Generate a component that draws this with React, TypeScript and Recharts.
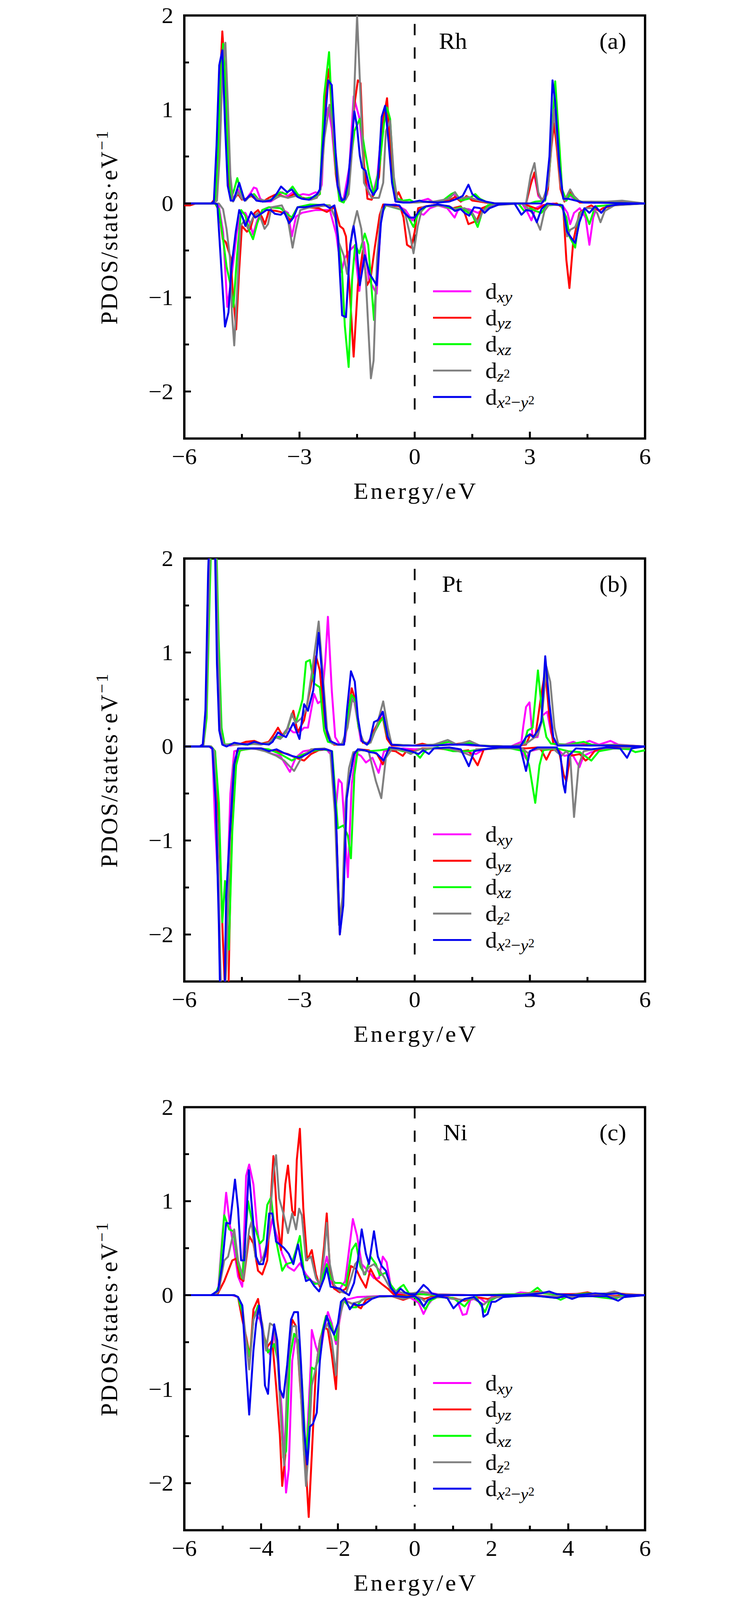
import React from 'react';
import { LineChart, Line, XAxis, YAxis, ReferenceLine, ReferenceArea, Legend } from 'recharts';

type Pt = [number, number];

// ---------------- Panel (a) Rh : spin-up ----------------
const rhUpXy: Pt[] = [[-6,0],[-5.3,0],[-5.2,0.05],[-5.13,0.5],[-5.07,1.4],[-5.0,1.66],[-4.94,1.0],[-4.87,0.3],[-4.79,0.04],[-4.72,0.05],[-4.6,0.15],[-4.5,0.05],[-4.4,0.04],[-4.26,0.12],[-4.19,0.17],[-4.12,0.16],[-4.02,0.05],[-3.9,0.02],[-3.75,0.02],[-3.6,0.06],[-3.45,0.12],[-3.3,0.08],[-3.18,0.12],[-3.05,0.08],[-2.91,0.1],[-2.75,0.09],[-2.58,0.12],[-2.5,0.1],[-2.42,0.2],[-2.34,0.9],[-2.25,1.02],[-2.16,0.8],[-2.05,0.3],[-1.96,0.04],[-1.85,0.05],[-1.7,0.39],[-1.59,1.14],[-1.5,1.0],[-1.44,0.91],[-1.32,0.39],[-1.2,0.1],[-1.1,0.08],[-0.97,0.3],[-0.85,0.85],[-0.75,0.97],[-0.68,0.8],[-0.6,0.35],[-0.5,0.05],[-0.4,0.03],[-0.2,0.01],[0.1,0.02],[0.35,0.05],[0.5,0.01],[0.8,0.02],[1.0,0.1],[1.1,0.07],[1.2,0.02],[1.4,0.06],[1.55,0.04],[1.7,0.02],[2.0,0],[2.9,0],[3.05,0.25],[3.12,0.3],[3.22,0.08],[3.35,0.02],[3.45,0.1],[3.55,0.6],[3.63,0.9],[3.7,0.7],[3.8,0.2],[3.9,0.04],[4.05,0.08],[4.15,0.05],[4.3,0.01],[4.6,0.02],[5.0,0.01],[5.4,0.02],[6,0]];
const rhUpYz: Pt[] = [[-6,0],[-5.3,0],[-5.2,0.05],[-5.14,0.35],[-5.07,1.3],[-5.01,1.83],[-4.96,1.5],[-4.9,0.8],[-4.83,0.2],[-4.75,0.03],[-4.68,0.06],[-4.6,0.1],[-4.5,0.04],[-4.4,0.05],[-4.25,0.08],[-4.1,0.03],[-3.95,0.02],[-3.8,0.06],[-3.6,0.1],[-3.45,0.08],[-3.3,0.06],[-3.15,0.1],[-3.0,0.07],[-2.8,0.05],[-2.6,0.06],[-2.47,0.1],[-2.38,0.7],[-2.31,1.25],[-2.23,1.43],[-2.15,0.9],[-2.05,0.3],[-1.95,0.04],[-1.83,0.05],[-1.75,0.15],[-1.66,0.45],[-1.57,1.05],[-1.48,1.31],[-1.41,1.28],[-1.32,0.42],[-1.23,0.05],[-1.12,0.04],[-0.93,0.28],[-0.81,0.91],[-0.72,1.12],[-0.61,0.42],[-0.5,0.05],[-0.42,0.12],[-0.31,0.02],[-0.1,0.01],[0.2,0.02],[0.5,0.01],[0.9,0.03],[1.05,0.07],[1.2,0.02],[1.35,0.08],[1.5,0.03],[1.7,0.02],[2.0,0],[2.9,0],[3.02,0.2],[3.12,0.33],[3.22,0.1],[3.35,0.02],[3.47,0.15],[3.56,0.6],[3.63,0.85],[3.7,0.6],[3.8,0.15],[3.9,0.02],[4.05,0.12],[4.15,0.06],[4.3,0.01],[4.7,0.01],[5.2,0.01],[6,0]];
const rhUpXz: Pt[] = [[-6,0],[-5.3,0],[-5.2,0.03],[-5.13,0.4],[-5.06,1.3],[-4.99,1.7],[-4.93,1.3],[-4.86,0.5],[-4.78,0.05],[-4.7,0.15],[-4.62,0.27],[-4.52,0.12],[-4.42,0.03],[-4.3,0.08],[-4.18,0.1],[-4.05,0.03],[-3.9,0.02],[-3.7,0.05],[-3.5,0.12],[-3.35,0.1],[-3.18,0.18],[-3.05,0.1],[-2.9,0.05],[-2.75,0.06],[-2.6,0.07],[-2.47,0.1],[-2.36,1.14],[-2.23,1.61],[-2.14,0.85],[-2.05,0.36],[-1.96,0.03],[-1.85,0.01],[-1.75,0.1],[-1.65,0.5],[-1.57,0.77],[-1.43,0.9],[-1.3,0.57],[-1.19,0.31],[-1.06,0.09],[-0.91,0.42],[-0.8,0.85],[-0.72,1.02],[-0.64,0.9],[-0.54,0.22],[-0.45,0.05],[-0.3,0.03],[-0.13,0.04],[0,0.01],[0.3,0.02],[0.7,0.02],[0.95,0.1],[1.05,0.12],[1.2,0.03],[1.4,0.05],[1.58,0.1],[1.7,0.05],[1.9,0.01],[2.1,0],[3.0,0],[3.15,0.02],[3.4,0.03],[3.52,0.4],[3.6,0.9],[3.66,1.3],[3.74,0.8],[3.84,0.15],[3.95,0.03],[4.05,0.1],[4.2,0.04],[4.4,0.01],[5.0,0.01],[6,0]];
const rhUpZ2: Pt[] = [[-6,0],[-5.25,0],[-5.15,0.03],[-5.08,0.5],[-5.0,1.5],[-4.93,1.71],[-4.87,1.1],[-4.8,0.3],[-4.73,0.02],[-4.6,0.12],[-4.5,0.05],[-4.4,0.03],[-4.25,0.1],[-4.1,0.05],[-3.9,0.03],[-3.7,0.04],[-3.5,0.08],[-3.3,0.06],[-3.1,0.08],[-2.9,0.05],[-2.7,0.04],[-2.55,0.06],[-2.45,0.15],[-2.35,0.7],[-2.22,1.05],[-2.13,0.8],[-2.02,0.4],[-1.93,0.06],[-1.8,0.04],[-1.72,0.1],[-1.63,0.57],[-1.5,2.0],[-1.41,1.14],[-1.32,0.22],[-1.12,0.06],[-0.93,0.06],[-0.82,0.22],[-0.75,0.77],[-0.64,0.88],[-0.54,0.28],[-0.45,0.03],[-0.3,0.02],[0,0.01],[0.5,0.02],[0.9,0.05],[1.05,0.12],[1.15,0.05],[1.4,0.07],[1.6,0.04],[1.8,0.02],[2.1,0],[2.9,0],[3.02,0.3],[3.12,0.43],[3.22,0.12],[3.32,0.02],[3.48,0.2],[3.57,0.7],[3.63,1.0],[3.7,0.7],[3.8,0.2],[3.9,0.03],[4.05,0.15],[4.15,0.08],[4.3,0.02],[4.6,0.02],[5.0,0.02],[5.4,0.03],[6,0]];
const rhUpX2y2: Pt[] = [[-6,0],[-5.3,0],[-5.23,0.02],[-5.16,0.62],[-5.09,1.47],[-5.01,1.63],[-4.94,0.85],[-4.87,0.19],[-4.79,0.03],[-4.72,0.03],[-4.57,0.22],[-4.43,0.03],[-4.26,0.1],[-4.12,0.03],[-3.95,0.02],[-3.75,0.03],[-3.6,0.1],[-3.48,0.18],[-3.4,0.15],[-3.32,0.12],[-3.2,0.15],[-3.05,0.07],[-2.94,0.05],[-2.75,0.04],[-2.54,0.1],[-2.47,0.15],[-2.4,0.57],[-2.25,1.31],[-2.16,1.26],[-2.01,0.19],[-1.9,0.03],[-1.82,0.05],[-1.74,0.22],[-1.57,0.98],[-1.5,0.81],[-1.43,0.51],[-1.37,0.38],[-1.28,0.35],[-1.17,0.16],[-1.08,0.09],[-0.97,0.16],[-0.86,0.92],[-0.77,1.04],[-0.68,0.65],[-0.59,0.22],[-0.5,0.02],[-0.3,0.01],[-0.13,0.01],[0.13,0.03],[0.23,0.02],[0.6,0.01],[0.9,0.02],[1.1,0.05],[1.25,0.08],[1.4,0.2],[1.5,0.1],[1.65,0.05],[1.85,0.02],[2.1,0],[3.3,0],[3.4,0.05],[3.51,0.5],[3.59,1.31],[3.66,1.08],[3.77,0.4],[3.87,0.05],[4.0,0.05],[4.2,0.03],[4.4,0.01],[6,0]];

// ---------------- Panel (a) Rh : spin-down ----------------
const rhDnXy: Pt[] = [[-6,0],[-5.2,0],[-5.1,-0.03],[-4.99,-0.3],[-4.88,-1.1],[-4.81,-0.9],[-4.72,-0.61],[-4.63,-0.3],[-4.52,-0.1],[-4.41,-0.1],[-4.3,-0.2],[-4.21,-0.33],[-4.1,-0.18],[-3.97,-0.07],[-3.8,-0.04],[-3.5,-0.05],[-3.3,-0.1],[-3.2,-0.35],[-3.09,-0.14],[-2.94,-0.1],[-2.58,-0.07],[-2.21,-0.07],[-2.04,-0.33],[-1.91,-0.73],[-1.82,-0.58],[-1.69,-0.5],[-1.57,-0.45],[-1.44,-0.93],[-1.32,-0.41],[-1.19,-0.81],[-0.99,-0.96],[-0.88,-0.18],[-0.8,-0.02],[-0.5,-0.01],[-0.24,-0.07],[-0.06,-0.18],[0.09,-0.1],[0.23,-0.12],[0.4,-0.05],[0.6,-0.02],[0.85,-0.05],[1.04,-0.15],[1.15,-0.05],[1.4,-0.06],[1.65,-0.1],[1.85,-0.04],[2.1,0],[2.8,0],[2.92,-0.08],[3.04,-0.18],[3.15,-0.05],[3.3,-0.02],[3.6,0],[3.85,-0.02],[3.98,-0.1],[4.05,-0.22],[4.15,-0.1],[4.3,-0.05],[4.45,-0.15],[4.55,-0.44],[4.65,-0.15],[4.75,-0.03],[5.0,-0.02],[5.3,-0.01],[6,0]];
const rhDnYz: Pt[] = [[-6,-0.02],[-5.85,-0.02],[-5.7,0],[-5.2,0],[-5.1,-0.07],[-5.0,-0.38],[-4.92,-0.41],[-4.79,-0.58],[-4.74,-0.93],[-4.65,-1.34],[-4.57,-0.7],[-4.5,-0.24],[-4.37,-0.3],[-4.28,-0.27],[-4.17,-0.1],[-4.08,-0.07],[-3.97,-0.15],[-3.9,-0.22],[-3.79,-0.07],[-3.6,-0.08],[-3.4,-0.1],[-3.24,-0.18],[-3.05,-0.04],[-2.8,-0.04],[-2.5,-0.05],[-2.29,-0.09],[-2.08,-0.04],[-1.95,-0.24],[-1.86,-0.27],[-1.79,-0.35],[-1.7,-0.87],[-1.59,-1.63],[-1.48,-0.87],[-1.35,-0.5],[-1.24,-0.87],[-1.15,-0.8],[-1.04,-0.47],[-0.91,-0.12],[-0.82,-0.01],[-0.38,-0.03],[-0.29,-0.15],[-0.2,-0.44],[-0.09,-0.47],[0.0,-0.3],[0.09,-0.05],[0.3,-0.03],[0.6,-0.01],[1.0,-0.05],[1.2,-0.03],[1.3,-0.1],[1.4,-0.22],[1.52,-0.2],[1.62,-0.18],[1.75,-0.05],[2.0,-0.01],[2.8,0],[3.0,-0.03],[3.2,-0.06],[3.35,-0.02],[3.7,0],[3.87,-0.05],[3.95,-0.6],[4.03,-0.9],[4.13,-0.4],[4.29,-0.1],[4.45,-0.05],[4.6,-0.02],[4.8,-0.08],[4.9,-0.05],[5.2,-0.02],[5.5,-0.01],[6,0]];
const rhDnXz: Pt[] = [[-6,0],[-5.2,0],[-5.1,-0.06],[-4.99,-0.38],[-4.9,-0.67],[-4.81,-0.84],[-4.72,-1.1],[-4.63,-0.58],[-4.52,-0.07],[-4.41,-0.13],[-4.3,-0.3],[-4.21,-0.38],[-4.1,-0.21],[-3.97,-0.07],[-3.79,-0.04],[-3.5,-0.05],[-3.2,-0.15],[-3.05,-0.04],[-2.72,-0.01],[-2.21,-0.02],[-2.04,-0.18],[-1.89,-0.73],[-1.82,-1.3],[-1.72,-1.74],[-1.63,-0.81],[-1.55,-0.44],[-1.44,-0.53],[-1.3,-0.32],[-1.21,-0.44],[-1.06,-1.24],[-0.95,-0.47],[-0.87,-0.12],[-0.75,-0.02],[-0.31,-0.07],[-0.16,-0.15],[-0.03,-0.25],[0.08,-0.12],[0.3,-0.03],[0.7,-0.02],[1.0,-0.06],[1.2,-0.04],[1.4,-0.1],[1.5,-0.12],[1.64,-0.25],[1.75,-0.1],[1.9,-0.02],[2.2,0],[2.7,0],[2.85,-0.08],[3.0,-0.05],[3.15,-0.08],[3.3,-0.1],[3.45,-0.02],[3.8,-0.01],[3.95,-0.15],[4.03,-0.35],[4.18,-0.47],[4.3,-0.1],[4.42,-0.08],[4.55,-0.22],[4.7,-0.03],[5.0,-0.02],[6,0]];
const rhDnZ2: Pt[] = [[-6,0],[-5.1,0],[-4.99,-0.06],[-4.9,-0.27],[-4.81,-0.58],[-4.76,-1.16],[-4.7,-1.51],[-4.63,-0.98],[-4.54,-0.24],[-4.43,-0.18],[-4.34,-0.27],[-4.21,-0.15],[-4.08,-0.1],[-3.99,-0.18],[-3.91,-0.27],[-3.82,-0.22],[-3.73,-0.04],[-3.46,-0.02],[-3.31,-0.15],[-3.18,-0.47],[-3.09,-0.27],[-2.98,-0.07],[-2.72,-0.04],[-2.21,-0.02],[-2.07,-0.15],[-1.98,-0.41],[-1.85,-0.55],[-1.76,-0.75],[-1.63,-0.3],[-1.5,-0.08],[-1.39,-0.27],[-1.28,-0.75],[-1.14,-1.86],[-1.07,-1.67],[-0.98,-0.58],[-0.87,-0.07],[-0.75,-0.02],[-0.27,-0.07],[-0.14,-0.3],[-0.03,-0.53],[0.08,-0.24],[0.2,-0.04],[0.5,-0.02],[0.9,-0.03],[1.05,-0.06],[1.3,-0.05],[1.5,-0.1],[1.64,-0.2],[1.78,-0.08],[2.0,-0.02],[2.8,0],[2.95,-0.05],[3.1,-0.12],[3.27,-0.28],[3.38,-0.08],[3.5,-0.01],[3.85,-0.02],[3.97,-0.35],[4.05,-0.28],[4.18,-0.25],[4.3,-0.12],[4.44,-0.05],[4.6,-0.05],[4.75,-0.1],[4.84,-0.2],[4.95,-0.08],[5.2,-0.02],[6,0]];
const rhDnX2y2: Pt[] = [[-6,0],[-5.2,0],[-5.14,-0.01],[-5.03,-0.73],[-4.94,-1.31],[-4.85,-1.16],[-4.77,-0.67],[-4.66,-0.3],[-4.57,-0.07],[-4.48,-0.15],[-4.41,-0.24],[-4.34,-0.17],[-4.26,-0.09],[-4.15,-0.15],[-4.04,-0.12],[-3.86,-0.07],[-3.75,-0.07],[-3.64,-0.11],[-3.49,-0.12],[-3.4,-0.09],[-3.27,-0.21],[-3.16,-0.15],[-3.05,-0.04],[-2.87,-0.04],[-2.58,-0.02],[-2.36,-0.01],[-2.21,-0.05],[-2.09,-0.02],[-2.0,-0.35],[-1.89,-1.19],[-1.79,-1.21],[-1.68,-0.44],[-1.59,-0.24],[-1.52,-0.44],[-1.43,-0.87],[-1.3,-0.55],[-1.17,-0.75],[-0.99,-0.87],[-0.88,-0.21],[-0.79,-0.01],[-0.4,-0.02],[-0.27,-0.1],[-0.14,-0.15],[0.0,-0.15],[0.13,-0.07],[0.3,-0.03],[0.6,-0.01],[0.9,-0.03],[1.05,-0.08],[1.2,-0.06],[1.3,-0.1],[1.42,-0.13],[1.55,-0.04],[1.7,-0.05],[1.82,-0.1],[1.95,-0.05],[2.2,-0.01],[2.6,0],[2.78,-0.12],[2.9,-0.07],[3.05,-0.08],[3.18,-0.2],[3.3,-0.06],[3.45,0],[3.85,-0.02],[3.97,-0.3],[4.1,-0.38],[4.18,-0.42],[4.29,-0.2],[4.42,-0.05],[4.55,-0.1],[4.7,-0.03],[4.86,-0.1],[5.0,-0.03],[5.3,-0.01],[6,0]];

// ---------------- Panel (b) Pt : spin-up ----------------
const ptUpXy: Pt[] = [[-6,0],[-5.6,0],[-5.5,0.03],[-5.43,0.5],[-5.36,1.9],[-5.29,2.7],[-5.21,2.5],[-5.14,0.8],[-5.07,0.15],[-4.99,0.02],[-4.8,0.01],[-4.5,0.03],[-4.2,0.04],[-3.9,0.03],[-3.6,0.1],[-3.45,0.12],[-3.3,0.2],[-3.16,0.15],[-3.0,0.15],[-2.88,0.2],[-2.78,0.2],[-2.62,0.56],[-2.52,0.46],[-2.42,0.49],[-2.33,0.9],[-2.26,1.38],[-2.16,0.6],[-2.07,0.1],[-1.95,0.02],[-1.82,0.05],[-1.7,0.4],[-1.6,0.55],[-1.5,0.3],[-1.4,0.06],[-1.25,0.02],[-1.1,0.12],[-0.95,0.25],[-0.85,0.37],[-0.72,0.1],[-0.6,0.02],[0,0.01],[0.5,0.01],[1.0,0.03],[1.5,0.01],[2.5,0],[2.78,0.05],[2.83,0.22],[2.9,0.42],[2.99,0.47],[3.07,0.1],[3.2,0.1],[3.33,0.33],[3.45,0.37],[3.55,0.15],[3.66,0.02],[3.9,0.02],[4.13,0.05],[4.3,0.02],[4.55,0.06],[4.8,0.02],[5.1,0.06],[5.3,0.02],[6,0]];
const ptUpYz: Pt[] = [[-6,0],[-5.6,0],[-5.5,0.02],[-5.43,0.4],[-5.36,1.8],[-5.29,2.7],[-5.21,2.6],[-5.13,1.0],[-5.06,0.15],[-4.98,0.02],[-4.6,0.02],[-4.4,0.05],[-4.18,0.06],[-4.0,0.03],[-3.8,0.05],[-3.68,0.12],[-3.56,0.2],[-3.45,0.12],[-3.35,0.15],[-3.16,0.38],[-3.05,0.15],[-2.88,0.28],[-2.68,0.7],[-2.57,0.96],[-2.47,0.81],[-2.36,0.28],[-2.26,0.1],[-2.1,0.02],[-1.85,0.02],[-1.75,0.3],[-1.64,0.62],[-1.55,0.5],[-1.46,0.2],[-1.35,0.04],[-1.2,0.03],[-1.06,0.17],[-0.92,0.28],[-0.83,0.31],[-0.72,0.08],[-0.6,0.01],[0,0.01],[0.2,0.03],[0.4,0.01],[1.0,0.02],[1.3,0.04],[1.6,0.01],[2.5,0],[2.9,0.02],[3.01,0.13],[3.14,0.1],[3.29,0.53],[3.4,0.81],[3.51,0.31],[3.61,0.03],[4.0,0.01],[4.5,0.02],[5.0,0.01],[6,0]];
const ptUpXz: Pt[] = [[-6,0],[-5.6,0],[-5.5,0.02],[-5.42,0.3],[-5.34,1.6],[-5.27,2.6],[-5.19,2.6],[-5.11,1.2],[-5.03,0.2],[-4.95,0.02],[-4.7,0.03],[-4.4,0.02],[-4.1,0.03],[-3.8,0.03],[-3.6,0.1],[-3.45,0.1],[-3.3,0.2],[-3.2,0.35],[-3.1,0.25],[-3.0,0.38],[-2.92,0.5],[-2.83,0.9],[-2.73,0.92],[-2.62,0.67],[-2.47,0.63],[-2.36,0.17],[-2.26,0.05],[-2.0,0.02],[-1.84,0.03],[-1.75,0.3],[-1.65,0.55],[-1.56,0.5],[-1.46,0.2],[-1.35,0.05],[-1.2,0.03],[-1.05,0.15],[-0.92,0.25],[-0.82,0.31],[-0.72,0.12],[-0.6,0.02],[0,0.01],[0.5,0.02],[0.9,0.05],[1.1,0.02],[1.4,0.04],[1.7,0.01],[2.5,0],[2.85,0.03],[2.94,0.17],[3.07,0.2],[3.21,0.81],[3.33,0.31],[3.43,0.1],[3.55,0.03],[4.0,0.02],[4.4,0.05],[4.6,0.02],[5.0,0.01],[6,0]];
const ptUpZ2: Pt[] = [[-6,0],[-5.6,0],[-5.5,0.02],[-5.43,0.4],[-5.35,1.8],[-5.28,2.7],[-5.2,2.6],[-5.12,1.0],[-5.05,0.15],[-4.97,0.02],[-4.6,0.02],[-4.3,0.03],[-4.0,0.02],[-3.8,0.04],[-3.65,0.1],[-3.5,0.08],[-3.35,0.15],[-3.2,0.35],[-3.1,0.25],[-2.95,0.3],[-2.82,0.4],[-2.68,0.78],[-2.5,1.33],[-2.38,0.7],[-2.28,0.17],[-2.15,0.03],[-1.9,0.02],[-1.75,0.2],[-1.63,0.5],[-1.53,0.45],[-1.43,0.15],[-1.32,0.04],[-1.15,0.04],[-1.0,0.2],[-0.82,0.48],[-0.7,0.2],[-0.6,0.02],[0,0.01],[0.5,0.02],[0.86,0.07],[1.1,0.02],[1.43,0.06],[1.7,0.01],[2.5,0],[2.9,0.03],[3.0,0.06],[3.2,0.12],[3.3,0.25],[3.43,0.85],[3.53,0.69],[3.64,0.2],[3.74,0.02],[4.2,0.02],[4.5,0.01],[5.2,0.02],[6,0]];
const ptUpX2y2: Pt[] = [[-6,0],[-5.6,0],[-5.52,0.02],[-5.45,0.38],[-5.38,1.85],[-5.3,2.8],[-5.22,2.6],[-5.15,0.88],[-5.09,0.17],[-5.01,0.02],[-4.9,0],[-4.7,0.04],[-4.55,0.03],[-4.35,0.02],[-4.18,0.05],[-4.0,0.03],[-3.8,0.02],[-3.7,0.05],[-3.56,0.15],[-3.45,0.12],[-3.35,0.1],[-3.16,0.25],[-3.0,0.08],[-2.88,0.45],[-2.78,0.38],[-2.64,0.6],[-2.5,1.21],[-2.42,0.81],[-2.31,0.2],[-2.21,0.06],[-2.0,0.02],[-1.84,0.02],[-1.76,0.4],[-1.66,0.8],[-1.56,0.69],[-1.48,0.31],[-1.38,0.06],[-1.24,0.02],[-1.17,0.06],[-1.06,0.26],[-0.96,0.28],[-0.83,0.37],[-0.7,0.1],[-0.6,0.02],[-0.3,0.01],[0,0.01],[0.5,0.01],[0.9,0.02],[1.4,0.02],[2.0,0],[2.75,0],[2.9,0.1],[3.0,0.13],[3.09,0.1],[3.22,0.18],[3.3,0.27],[3.4,0.96],[3.51,0.45],[3.61,0.1],[3.72,0.01],[4.0,0.01],[4.5,0.01],[5.0,0.01],[6,0]];

// ---------------- Panel (b) Pt : spin-down ----------------
const ptDnXy: Pt[] = [[-6,0],[-5.35,0],[-5.27,-0.03],[-5.2,-0.8],[-5.1,-1.62],[-5.05,-2.7],[-4.95,-2.8],[-4.88,-1.5],[-4.8,-0.5],[-4.7,-0.05],[-4.4,-0.02],[-4.0,-0.03],[-3.7,-0.08],[-3.5,-0.1],[-3.25,-0.27],[-3.1,-0.12],[-2.9,-0.05],[-2.6,-0.03],[-2.3,-0.03],[-2.15,-0.1],[-2.05,-0.64],[-1.98,-0.35],[-1.9,-0.39],[-1.74,-1.39],[-1.64,-0.4],[-1.53,-0.07],[-1.4,-0.1],[-1.27,-0.17],[-1.1,-0.12],[-0.94,-0.28],[-0.8,-0.05],[-0.6,-0.03],[-0.3,-0.02],[0,-0.03],[0.4,-0.02],[0.8,-0.02],[1.3,-0.05],[1.6,-0.08],[1.8,-0.03],[2.2,-0.02],[2.6,-0.01],[2.8,-0.05],[2.9,-0.13],[3.0,-0.05],[3.3,-0.02],[3.7,-0.02],[3.9,-0.1],[4.1,-0.08],[4.29,-0.22],[4.4,-0.1],[4.6,-0.06],[4.9,-0.03],[5.3,-0.02],[6,0]];
const ptDnYz: Pt[] = [[-6,0],[-5.3,0],[-5.2,-0.05],[-5.1,-0.8],[-5.0,-2.0],[-4.92,-2.8],[-4.86,-2.8],[-4.8,-1.5],[-4.72,-0.4],[-4.63,-0.05],[-4.3,-0.02],[-4.0,-0.02],[-3.6,-0.05],[-3.3,-0.08],[-3.1,-0.12],[-2.88,-0.15],[-2.7,-0.08],[-2.5,-0.04],[-2.3,-0.03],[-2.16,-0.05],[-2.05,-0.75],[-1.95,-2.0],[-1.86,-1.6],[-1.77,-0.5],[-1.69,-0.33],[-1.58,-0.08],[-1.45,-0.03],[-1.2,-0.04],[-0.98,-0.08],[-0.83,-0.19],[-0.7,-0.04],[-0.5,-0.05],[-0.31,-0.1],[-0.2,-0.04],[0,-0.05],[0.2,-0.02],[0.6,-0.02],[1.2,-0.05],[1.4,-0.04],[1.64,-0.2],[1.8,-0.03],[2.4,-0.01],[2.9,-0.02],[3.2,-0.01],[3.3,-0.04],[3.43,-0.14],[3.55,-0.04],[3.75,-0.03],[3.88,-0.3],[3.95,-0.37],[4.05,-0.1],[4.3,-0.08],[4.45,-0.15],[4.55,-0.12],[4.7,-0.04],[5.0,-0.01],[6,0]];
const ptDnXz: Pt[] = [[-6,0],[-5.3,0],[-5.2,-0.05],[-5.1,-0.6],[-5.01,-1.87],[-4.94,-1.43],[-4.84,-2.16],[-4.75,-0.9],[-4.65,-0.2],[-4.55,-0.04],[-4.2,-0.02],[-3.8,-0.03],[-3.5,-0.08],[-3.2,-0.15],[-3.0,-0.1],[-2.7,-0.05],[-2.4,-0.03],[-2.15,-0.05],[-2.0,-0.87],[-1.86,-0.84],[-1.74,-0.95],[-1.66,-1.19],[-1.57,-0.3],[-1.48,-0.03],[-1.2,-0.05],[-0.9,-0.04],[-0.6,-0.02],[-0.3,-0.05],[0.0,-0.06],[0.14,-0.12],[0.3,-0.03],[0.6,-0.01],[1.0,-0.05],[1.4,-0.05],[1.7,-0.03],[2.2,-0.02],[2.5,-0.02],[2.85,-0.05],[2.98,-0.2],[3.14,-0.6],[3.25,-0.2],[3.35,-0.04],[3.7,-0.02],[4.0,-0.05],[4.3,-0.06],[4.6,-0.15],[4.8,-0.05],[5.2,-0.02],[5.6,-0.03],[5.75,-0.06],[6,-0.04]];
const ptDnZ2: Pt[] = [[-6,0],[-5.3,0],[-5.22,-0.05],[-5.13,-1.0],[-5.05,-2.5],[-4.97,-2.8],[-4.9,-2.3],[-4.82,-1.0],[-4.72,-0.2],[-4.6,-0.03],[-4.2,-0.02],[-3.9,-0.05],[-3.6,-0.1],[-3.4,-0.15],[-3.14,-0.26],[-2.95,-0.12],[-2.7,-0.03],[-2.35,-0.02],[-2.2,-0.05],[-2.08,-0.7],[-1.97,-1.9],[-1.88,-1.6],[-1.8,-0.6],[-1.71,-0.23],[-1.6,-0.06],[-1.4,-0.04],[-1.2,-0.05],[-1.01,-0.37],[-0.87,-0.55],[-0.75,-0.12],[-0.6,-0.03],[-0.3,-0.04],[-0.1,-0.08],[0.1,-0.03],[0.4,-0.02],[0.9,-0.02],[1.3,-0.07],[1.48,-0.1],[1.6,-0.03],[2.2,-0.02],[2.8,-0.02],[2.95,-0.07],[3.1,-0.03],[3.6,-0.02],[3.82,-0.1],[3.95,-0.05],[4.05,-0.1],[4.15,-0.75],[4.27,-0.2],[4.4,-0.05],[4.8,-0.02],[5.2,-0.02],[6,0]];
const ptDnX2y2: Pt[] = [[-6,0],[-5.35,0],[-5.27,-0.02],[-5.18,-0.6],[-5.1,-1.9],[-5.06,-2.8],[-4.96,-2.9],[-4.91,-1.6],[-4.81,-0.9],[-4.7,-0.19],[-4.6,-0.02],[-4.3,-0.02],[-4.0,-0.02],[-3.8,-0.05],[-3.6,-0.03],[-3.4,-0.07],[-3.2,-0.1],[-3.0,-0.12],[-2.8,-0.08],[-2.6,-0.03],[-2.3,-0.03],[-2.16,-0.05],[-2.05,-0.73],[-1.95,-2.0],[-1.86,-1.69],[-1.77,-0.55],[-1.69,-0.33],[-1.58,-0.08],[-1.48,-0.03],[-1.3,-0.04],[-1.17,-0.06],[-1.0,-0.07],[-0.81,-0.15],[-0.66,-0.01],[-0.4,-0.02],[-0.1,-0.05],[0.1,-0.08],[0.22,-0.04],[0.37,-0.08],[0.5,-0.02],[0.9,-0.01],[1.2,-0.03],[1.41,-0.21],[1.55,-0.05],[1.8,-0.03],[2.2,-0.01],[2.75,-0.01],[2.9,-0.26],[3.0,-0.05],[3.2,-0.01],[3.7,-0.01],[3.8,-0.1],[3.87,-0.4],[3.92,-0.49],[4.0,-0.1],[4.2,-0.02],[4.6,-0.03],[5.0,-0.01],[5.35,-0.02],[5.53,-0.12],[5.65,-0.02],[6,0]];

// ---------------- Panel (c) Ni : spin-up ----------------
const niUpXy: Pt[] = [[-6,0],[-5.3,0],[-5.12,0.04],[-5.01,0.63],[-4.91,1.09],[-4.81,0.74],[-4.7,0.48],[-4.6,0.2],[-4.49,0.09],[-4.39,1.27],[-4.31,1.39],[-4.2,1.18],[-4.1,0.7],[-3.99,0.37],[-3.89,0.41],[-3.71,0.81],[-3.61,0.66],[-3.45,0.44],[-3.3,0.3],[-3.14,0.26],[-2.99,0.34],[-2.83,0.22],[-2.68,0.15],[-2.47,0.11],[-2.29,0.41],[-2.16,0.13],[-2.0,0.04],[-1.81,0.15],[-1.71,0.48],[-1.61,0.81],[-1.5,0.63],[-1.38,0.33],[-1.22,0.26],[-1.06,0.18],[-0.93,0.18],[-0.83,0.41],[-0.73,0.35],[-0.6,0.04],[-0.45,0.02],[-0.2,0.02],[0.1,0.02],[0.3,0.03],[0.6,0.01],[1.5,0],[2.6,0.01],[2.75,0.03],[3.0,0.02],[3.3,0.03],[3.6,0.01],[4.0,0.01],[4.5,0.02],[4.9,0.01],[5.2,0.04],[5.4,0.01],[6,0]];
const niUpYz: Pt[] = [[-6,0],[-5.15,0],[-4.96,0.15],[-4.75,0.37],[-4.65,0.39],[-4.55,0.18],[-4.46,0.15],[-4.31,0.63],[-4.2,0.55],[-4.08,0.26],[-3.97,0.22],[-3.84,0.37],[-3.68,1.48],[-3.58,0.81],[-3.48,0.48],[-3.37,1.18],[-3.3,1.38],[-3.19,0.9],[-3.12,0.85],[-3.07,1.44],[-2.99,1.77],[-2.9,0.92],[-2.8,0.37],[-2.68,0.48],[-2.57,0.22],[-2.47,0.09],[-2.36,0.52],[-2.29,0.87],[-2.21,0.3],[-2.1,0.07],[-1.95,0.03],[-1.79,0.07],[-1.66,0.31],[-1.53,0.28],[-1.41,0.18],[-1.27,0.08],[-1.15,0.28],[-1.01,0.17],[-0.86,0.12],[-0.7,0.07],[-0.55,0.01],[-0.3,0],[0.2,0.01],[0.5,0],[1.5,0],[2.8,0.01],[3.2,0.04],[3.4,0.02],[3.7,0.01],[4.2,0.01],[4.5,0.03],[4.7,0.01],[5.2,0.02],[6,0]];
const niUpXz: Pt[] = [[-6,0],[-5.2,0],[-5.1,0.1],[-4.96,0.85],[-4.83,0.7],[-4.72,0.68],[-4.6,0.33],[-4.49,0.18],[-4.34,1.0],[-4.23,0.77],[-4.13,0.68],[-4.03,0.55],[-3.94,0.59],[-3.84,0.96],[-3.74,1.04],[-3.63,0.63],[-3.56,0.48],[-3.45,0.26],[-3.35,0.33],[-3.19,0.35],[-3.09,0.48],[-2.99,0.63],[-2.88,0.22],[-2.78,0.18],[-2.6,0.12],[-2.45,0.13],[-2.29,0.33],[-2.19,0.18],[-2.07,0.13],[-1.93,0.13],[-1.79,0.1],[-1.64,0.48],[-1.53,0.55],[-1.41,0.3],[-1.29,0.22],[-1.15,0.41],[-1.01,0.33],[-0.91,0.21],[-0.75,0.24],[-0.62,0.11],[-0.49,0.04],[-0.39,0.08],[-0.29,0.11],[-0.15,0.02],[0.2,0.01],[0.5,0],[1.5,0],[2.8,0.01],[3.0,0.02],[3.2,0.08],[3.35,0.02],[3.6,0.01],[4.0,0],[4.5,0.02],[5.0,0.01],[5.2,0.03],[5.4,0],[6,0]];
const niUpZ2: Pt[] = [[-6,0],[-5.2,0],[-5.1,0.05],[-4.96,0.37],[-4.86,0.41],[-4.7,0.7],[-4.6,0.37],[-4.46,0.17],[-4.31,0.7],[-4.25,0.78],[-4.15,0.41],[-4.05,0.33],[-3.94,0.41],[-3.82,0.59],[-3.68,1.29],[-3.61,1.49],[-3.53,1.03],[-3.42,0.87],[-3.3,0.66],[-3.19,0.87],[-3.09,0.7],[-3.01,0.92],[-2.94,0.85],[-2.83,0.37],[-2.7,0.41],[-2.57,0.18],[-2.47,0.11],[-2.36,0.42],[-2.29,0.77],[-2.21,0.33],[-2.1,0.11],[-1.95,0.04],[-1.79,0.02],[-1.66,0.18],[-1.55,0.33],[-1.43,0.39],[-1.32,0.22],[-1.19,0.3],[-1.06,0.33],[-0.91,0.26],[-0.78,0.18],[-0.62,0.06],[-0.44,0.04],[-0.2,0.01],[0.2,0.04],[0.4,0.01],[1.5,0],[2.8,0],[3.0,0.02],[3.3,0.03],[3.6,0.02],[4.0,0],[4.5,0.01],[5.0,0.02],[5.2,0.04],[5.4,0.01],[6,0]];
const niUpX2y2: Pt[] = [[-6,0],[-5.3,0],[-5.12,0.05],[-5.01,0.33],[-4.91,0.77],[-4.81,0.76],[-4.68,1.23],[-4.6,0.92],[-4.52,0.37],[-4.44,0.37],[-4.32,1.33],[-4.23,0.89],[-4.13,0.41],[-4.05,0.33],[-3.95,0.33],[-3.87,0.48],[-3.79,0.87],[-3.71,0.87],[-3.61,0.57],[-3.51,0.54],[-3.4,0.5],[-3.28,0.44],[-3.16,0.33],[-3.04,0.54],[-2.94,0.33],[-2.83,0.15],[-2.73,0.17],[-2.62,0.1],[-2.49,0.04],[-2.36,0.18],[-2.29,0.29],[-2.19,0.09],[-2.07,0.08],[-1.95,0.07],[-1.82,0.03],[-1.71,0],[-1.58,0.13],[-1.48,0.37],[-1.38,0.7],[-1.27,0.44],[-1.19,0.33],[-1.06,0.68],[-0.96,0.41],[-0.86,0.31],[-0.75,0.26],[-0.62,0.08],[-0.49,0.01],[-0.37,0.07],[-0.26,0.03],[-0.13,0.01],[0.03,0.01],[0.13,0.06],[0.23,0.11],[0.34,0.07],[0.44,0.02],[0.6,0],[1.5,0],[2.8,0],[3.3,0.02],[3.5,0.04],[3.7,0.01],[4.2,0],[4.7,0.02],[5.0,0.01],[5.3,0.02],[5.5,0],[6,0]];

// ---------------- Panel (c) Ni : spin-down ----------------
const niDnXy: Pt[] = [[-6,0],[-4.75,0],[-4.6,-0.02],[-4.49,-0.18],[-4.39,-0.48],[-4.29,-0.63],[-4.18,-0.18],[-4.03,-0.26],[-3.87,-0.52],[-3.77,-0.63],[-3.66,-0.41],[-3.56,-0.7],[-3.45,-1.29],[-3.35,-2.1],[-3.28,-1.85],[-3.19,-0.7],[-3.09,-0.41],[-2.97,-0.77],[-2.88,-1.7],[-2.8,-1.51],[-2.71,-0.77],[-2.68,-0.37],[-2.57,-0.55],[-2.47,-0.66],[-2.36,-0.37],[-2.26,-0.18],[-2.16,-0.3],[-2.05,-0.52],[-1.97,-0.3],[-1.86,-0.05],[-1.7,-0.04],[-1.5,-0.02],[-1.0,-0.01],[-0.5,-0.01],[-0.1,-0.03],[0.1,-0.08],[0.23,-0.2],[0.35,-0.1],[0.5,-0.02],[0.8,-0.01],[1.1,-0.05],[1.25,-0.21],[1.35,-0.2],[1.45,-0.05],[1.7,-0.03],[1.85,-0.08],[2.0,-0.02],[2.5,0],[3.5,-0.01],[4.0,-0.02],[4.5,0],[5.2,-0.02],[6,0]];
const niDnYz: Pt[] = [[-6,0],[-4.7,0],[-4.6,-0.02],[-4.49,-0.26],[-4.39,-0.44],[-4.29,-0.66],[-4.2,-0.15],[-4.08,-0.04],[-3.94,-0.41],[-3.84,-0.55],[-3.71,-0.48],[-3.61,-0.96],[-3.51,-1.5],[-3.45,-2.03],[-3.37,-1.7],[-3.28,-0.66],[-3.19,-0.26],[-3.09,-0.33],[-2.99,-0.92],[-2.88,-1.51],[-2.76,-2.36],[-2.68,-1.7],[-2.57,-0.77],[-2.47,-0.48],[-2.36,-0.33],[-2.26,-0.37],[-2.16,-0.63],[-2.05,-1.0],[-1.97,-0.26],[-1.86,-0.05],[-1.74,-0.07],[-1.53,-0.11],[-1.4,-0.14],[-1.27,-0.05],[-1.1,-0.02],[-0.6,-0.01],[-0.3,-0.05],[-0.1,-0.02],[0.1,-0.02],[0.25,-0.04],[0.5,-0.01],[1.0,-0.03],[1.3,-0.06],[1.6,-0.02],[1.9,-0.04],[2.2,-0.01],[3.0,0],[3.8,-0.02],[4.2,-0.01],[5.0,-0.01],[6,0]];
const niDnXz: Pt[] = [[-6,0],[-4.7,0],[-4.6,-0.02],[-4.49,-0.18],[-4.39,-0.48],[-4.29,-0.66],[-4.2,-0.26],[-4.08,-0.11],[-3.94,-0.41],[-3.82,-0.61],[-3.66,-0.52],[-3.56,-0.7],[-3.42,-1.73],[-3.35,-1.66],[-3.25,-0.66],[-3.14,-0.41],[-3.04,-0.48],[-2.94,-0.89],[-2.83,-1.7],[-2.75,-1.33],[-2.68,-0.77],[-2.6,-0.79],[-2.52,-0.7],[-2.42,-0.41],[-2.31,-0.22],[-2.19,-0.3],[-2.05,-0.48],[-1.97,-0.26],[-1.86,-0.05],[-1.69,-0.13],[-1.53,-0.13],[-1.38,-0.05],[-1.2,-0.02],[-0.5,-0.01],[0.0,-0.02],[0.15,-0.08],[0.28,-0.15],[0.4,-0.06],[0.6,-0.02],[1.0,-0.03],[1.3,-0.12],[1.45,-0.04],[1.6,-0.02],[1.83,-0.18],[1.95,-0.06],[2.2,-0.01],[3.0,0],[3.7,-0.03],[3.8,-0.05],[3.95,-0.02],[4.6,-0.01],[5.2,-0.04],[5.4,-0.01],[6,0]];
const niDnZ2: Pt[] = [[-6,0],[-4.7,0],[-4.6,-0.02],[-4.49,-0.11],[-4.39,-0.48],[-4.31,-0.79],[-4.2,-0.26],[-4.08,-0.15],[-3.97,-0.3],[-3.87,-0.59],[-3.77,-0.3],[-3.66,-0.33],[-3.56,-0.74],[-3.48,-1.33],[-3.4,-1.81],[-3.3,-0.7],[-3.19,-0.33],[-3.09,-0.33],[-2.97,-1.0],[-2.88,-1.7],[-2.83,-2.03],[-2.76,-1.62],[-2.68,-0.96],[-2.57,-0.77],[-2.47,-0.48],[-2.36,-0.37],[-2.26,-0.3],[-2.16,-0.48],[-2.05,-0.85],[-1.97,-0.26],[-1.84,-0.05],[-1.64,-0.09],[-1.45,-0.07],[-1.2,-0.02],[-0.6,-0.01],[-0.3,-0.04],[0.0,-0.01],[0.15,-0.03],[0.28,-0.07],[0.4,-0.03],[0.7,-0.02],[1.0,-0.04],[1.3,-0.05],[1.5,-0.03],[1.8,-0.1],[2.0,-0.03],[2.4,-0.01],[3.5,-0.01],[4.0,-0.02],[4.6,-0.01],[5.5,-0.02],[6,0]];
const niDnX2y2: Pt[] = [[-6,0],[-4.7,0],[-4.6,-0.02],[-4.49,-0.11],[-4.39,-0.77],[-4.31,-1.27],[-4.2,-0.59],[-4.13,-0.3],[-4.05,-0.11],[-3.97,-0.37],[-3.9,-0.96],[-3.82,-1.05],[-3.74,-0.55],[-3.66,-0.31],[-3.58,-0.48],[-3.51,-1.0],[-3.42,-1.09],[-3.32,-0.74],[-3.22,-0.26],[-3.14,-0.18],[-3.04,-0.18],[-2.96,-0.74],[-2.88,-1.44],[-2.8,-1.8],[-2.73,-1.4],[-2.65,-1.37],[-2.55,-1.25],[-2.47,-0.7],[-2.38,-0.37],[-2.29,-0.22],[-2.21,-0.33],[-2.1,-0.42],[-2.0,-0.3],[-1.92,-0.07],[-1.82,-0.03],[-1.69,-0.15],[-1.58,-0.09],[-1.48,-0.11],[-1.32,-0.1],[-1.12,-0.04],[-0.91,-0.01],[-0.5,-0.01],[-0.2,-0.02],[0.0,-0.01],[0.13,-0.05],[0.23,-0.12],[0.35,-0.05],[0.6,-0.01],[0.85,-0.03],[1.01,-0.14],[1.15,-0.08],[1.3,-0.04],[1.55,-0.02],[1.75,-0.1],[1.79,-0.23],[1.9,-0.2],[2.0,-0.07],[2.1,-0.07],[2.3,-0.02],[3.0,0],[3.7,-0.03],[3.9,-0.01],[4.1,-0.04],[4.3,-0.01],[5.0,-0.01],[5.3,-0.06],[5.45,-0.02],[6,0]];

// ---------------- axes / labels ----------------
const energyTicksAB = [-6, -4.5, -3, -1.5, 0, 1.5, 3, 4.5, 6];
const energyLabelsAB = [-6, -3, 0, 3, 6];
const energyTicksC = [-6, -5, -4, -3, -2, -1, 0, 1, 2, 3, 4, 5, 6];
const energyLabelsC = [-6, -4, -2, 0, 2, 4, 6];
const pdosTicks = [-2, -1.5, -1, -0.5, 0, 0.5, 1, 1.5, 2];
const pdosLabels = [-2, -1, 0, 1, 2];
const orbitalNames = ['dxy', 'dyz', 'dxz', 'dz2', 'dx2y2'];
const orbitalColors = ['#ff00ff', '#ff0000', '#00ff00', '#808080', '#0000ee'];

const FONT = '"Liberation Serif", "Times New Roman", serif';
const PAGE_W = 1890;
const PAGE_H = 4240;
const W = 1890;
const H = 1347;
const PLOT_LEFT = 472;
const PLOT_RIGHT = 1652;
const PLOT_TOP = 41;
const PLOT_H = 1121;
const YAXIS_W = 100;
const XAXIS_H = 100;
const SERIES_W = 5;

const fmt = (v: number) => (v < 0 ? '\u2212' + Math.abs(v) : String(v));
const toRows = (p: Pt[]) => p.map(([e, v]) => ({ e, v }));

function makeXTick(labels: number[]) {
  return (props: any) => {
    const { x, y, payload } = props;
    const val = payload.value;
    const major = labels.includes(val);
    return (
      <g>
        <line x1={x} x2={x} y1={y} y2={y - (major ? 18 : 12)} stroke="#000" strokeWidth={5} />
        {major ? (
          <text x={x} y={y + 68} textAnchor="middle" fontFamily={FONT} fontSize={60} fill="#000">
            {fmt(val)}
          </text>
        ) : null}
      </g>
    );
  };
}

const yTick = (props: any) => {
  const { x, y, payload } = props;
  const val = payload.value;
  const major = pdosLabels.includes(val);
  return (
    <g>
      <line x1={x} x2={x + (major ? 17 : 12)} y1={y} y2={y} stroke="#000" strokeWidth={5} />
      {major ? (
        <text x={x - 28} y={y + 20} textAnchor="end" fontFamily={FONT} fontSize={60} fill="#000">
          {fmt(val)}
        </text>
      ) : null}
    </g>
  );
};

const xLabel = () => (
  <text x={(PLOT_LEFT + PLOT_RIGHT) / 2} y={PLOT_TOP + PLOT_H + 160} textAnchor="middle" fontFamily={FONT} fontSize={62} fill="#000" textLength={313} lengthAdjust="spacing">
    Energy/eV
  </text>
);

const yLabel = () => {
  const cx = 300;
  const cy = PLOT_TOP + PLOT_H / 2;
  return (
    <text x={cx} y={cy} transform={`rotate(-90 ${cx} ${cy})`} textAnchor="middle" fontFamily={FONT} fontSize={62} fill="#000" letterSpacing={4}>
      PDOS/states·eV<tspan fontSize={44} dy={-24}>{'\u22121'}</tspan>
    </text>
  );
};

function orbitalText(name: string) {
  const sub = { fontSize: 44, fontStyle: 'italic' as const };
  switch (name) {
    case 'dxy':
      return [<tspan key="d">d</tspan>, <tspan key="s" {...sub} dy={9}>xy</tspan>];
    case 'dyz':
      return [<tspan key="d">d</tspan>, <tspan key="s" {...sub} dy={9}>yz</tspan>];
    case 'dxz':
      return [<tspan key="d">d</tspan>, <tspan key="s" {...sub} dy={9}>xz</tspan>];
    case 'dz2':
      return [<tspan key="d">d</tspan>, <tspan key="s" {...sub} dy={9}>z</tspan>, <tspan key="p" fontSize={32} dy={-10}>2</tspan>];
    default:
      return [
        <tspan key="d">d</tspan>,
        <tspan key="s" {...sub} dy={9}>x</tspan>,
        <tspan key="p" fontSize={32} dy={-10}>2</tspan>,
        <tspan key="m" fontSize={44} dy={10}>{'\u2212'}</tspan>,
        <tspan key="s2" {...sub}>y</tspan>,
        <tspan key="p2" fontSize={32} dy={-10}>2</tspan>,
      ];
  }
}

const legendContent = (props: any) => {
  const items = (props.payload || [])
    .filter((p: any) => p.type !== 'none' && orbitalNames.includes(String(p.value)))
    .slice()
    .sort((a: any, b: any) => orbitalNames.indexOf(String(a.value)) - orbitalNames.indexOf(String(b.value)));
  return (
    <svg width={460} height={360} style={{ display: 'block', overflow: 'visible' }}>
      {items.map((it: any, i: number) => {
        const cy = 35 + i * 70;
        return (
          <g key={i}>
            <line x1={0} x2={98} y1={cy} y2={cy} stroke={it.color} strokeWidth={5} />
            <text x={134} y={cy + 20} fontFamily={FONT} fontSize={60} fill="#000">
              {orbitalText(String(it.value))}
            </text>
          </g>
        );
      })}
    </svg>
  );
};

interface PanelProps {
  top: number;
  element: string;
  tag: string;
  elementX: number;
  up: Pt[][];
  dn: Pt[][];
  xTicks: number[];
  xLabels: number[];
  dashTop: number;
}

function Panel({ top, element, tag, elementX, up, dn, xTicks, xLabels, dashTop }: PanelProps) {
  const lines: React.ReactNode[] = [];
  for (let i = 0; i < 5; i++) {
    lines.push(
      <Line key={`u${i}`} data={toRows(up[i])} dataKey="v" name={orbitalNames[i]} type="linear" stroke={orbitalColors[i]} strokeWidth={SERIES_W} strokeLinejoin="round" dot={false} activeDot={false} isAnimationActive={false} />
    );
    lines.push(
      <Line key={`d${i}`} data={toRows(dn[i])} dataKey="v" name={orbitalNames[i] + '_dn'} legendType="none" type="linear" stroke={orbitalColors[i]} strokeWidth={SERIES_W} strokeLinejoin="round" dot={false} activeDot={false} isAnimationActive={false} />
    );
  }
  return (
    <div style={{ position: 'absolute', left: 0, top, width: W, height: H }}>
      <LineChart
        width={W}
        height={H}
        margin={{ top: PLOT_TOP, right: W - PLOT_RIGHT, bottom: H - PLOT_TOP - PLOT_H - XAXIS_H, left: PLOT_LEFT - YAXIS_W }}
      >
        <XAxis
          type="number"
          dataKey="e"
          domain={[-6, 6]}
          ticks={xTicks}
          interval={0}
          tickSize={0}
          tickMargin={0}
          axisLine={false}
          tick={makeXTick(xLabels)}
          height={XAXIS_H}
          allowDataOverflow
          label={xLabel}
        />
        <YAxis
          type="number"
          domain={[-2.5, 2]}
          ticks={pdosTicks}
          interval={0}
          tickSize={0}
          tickMargin={0}
          axisLine={false}
          tick={yTick}
          width={YAXIS_W}
          allowDataOverflow
          label={yLabel}
        />
        <ReferenceLine
          segment={[{ x: 0, y: dashTop }, { x: 0, y: -2.25 }]}
          stroke="#000"
          strokeWidth={4.5}
          strokeDasharray="30 32"
          ifOverflow="visible"
        />
        {lines}
        <ReferenceArea x1={-6} x2={6} y1={-2.5} y2={2} fill="none" fillOpacity={0} stroke="#000" strokeWidth={6} ifOverflow="visible" />
        <Legend
          layout="vertical"
          align="center"
          verticalAlign="middle"
          wrapperStyle={{ position: 'absolute', left: 1109, top: 737, width: 460, height: 360 }}
          content={legendContent}
        />
      </LineChart>
      <svg width={W} height={H} style={{ position: 'absolute', left: 0, top: 0, pointerEvents: 'none' }}>
        <text x={elementX} y={PLOT_TOP + 88} fontFamily={FONT} fontSize={62} fill="#000">
          {element}
        </text>
        <text x={1535} y={PLOT_TOP + 88} fontFamily={FONT} fontSize={62} fill="#000">
          {tag}
        </text>
      </svg>
    </div>
  );
}

export default function App() {
  // The figure is laid out on a fixed 1890 x 4240 canvas; it is scaled to the
  // visible viewport so that nothing falls below the bottom edge.
  const vw = typeof window !== 'undefined' && window.innerWidth ? window.innerWidth : PAGE_W;
  const vh = typeof window !== 'undefined' && window.innerHeight ? window.innerHeight : PAGE_H;
  const sx = Math.min(1, vw / PAGE_W);
  const sy = Math.min(1, vh / PAGE_H);
  return (
    <div style={{ position: 'fixed', left: 0, top: 0, width: '100vw', height: '100vh', overflow: 'hidden', background: '#fff' }}>
      <div
        style={{
          position: 'absolute',
          left: 0,
          top: 0,
          width: PAGE_W,
          height: PAGE_H,
          background: '#fff',
          transform: `scale(${sx}, ${sy})`,
          transformOrigin: '0 0',
        }}
      >
        <Panel
          top={0}
          element="Rh"
          tag="(a)"
          elementX={1124}
          up={[rhUpXy, rhUpYz, rhUpXz, rhUpZ2, rhUpX2y2]}
          dn={[rhDnXy, rhDnYz, rhDnXz, rhDnZ2, rhDnX2y2]}
          xTicks={energyTicksAB}
          xLabels={energyLabelsAB}
          dashTop={1.91}
        />
        <Panel
          top={1439}
          element="Pt"
          tag="(b)"
          elementX={1132}
          up={[ptUpXy, ptUpYz, ptUpXz, ptUpZ2, ptUpX2y2]}
          dn={[ptDnXy, ptDnYz, ptDnXz, ptDnZ2, ptDnX2y2]}
          xTicks={energyTicksAB}
          xLabels={energyLabelsAB}
          dashTop={1.89}
        />
        <Panel
          top={2893}
          element="Ni"
          tag="(c)"
          elementX={1135}
          up={[niUpXy, niUpYz, niUpXz, niUpZ2, niUpX2y2]}
          dn={[niDnXy, niDnYz, niDnXz, niDnZ2, niDnX2y2]}
          xTicks={energyTicksC}
          xLabels={energyLabelsC}
          dashTop={2.0}
        />
      </div>
    </div>
  );
}
